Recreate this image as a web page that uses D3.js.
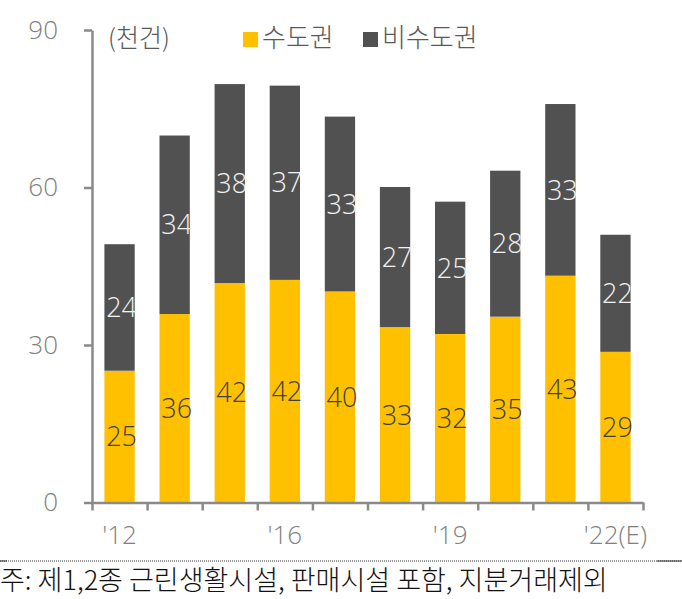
<!DOCTYPE html>
<html><head><meta charset="utf-8">
<script src="https://cdn.jsdelivr.net/npm/d3@7"></script>
<style>body{margin:0;background:#fff} svg{display:block}</style>
</head><body>
<svg id="c" width="682" height="599"></svg>
<script>
const categories = ["'12","'14","'15","'16","'17","'18","'19","'20","'21","'22(E)"];
const tickLabels = ["'12","","","'16","","","'19","","","'22(E)"];
const capital = [25.1,35.9,41.8,42.4,40.2,33.4,32.1,35.4,43.2,28.7];
const nonCapital = [24.1,34.0,37.9,37.0,33.3,26.7,25.2,27.8,32.7,22.3];
const seriesNames = ["수도권","비수도권"];
const seriesColors = ["#FFC000","#515151"];
const labelColors = ["#404040","#f2f2f2"];
const yTicks = [0,30,60,90];
const unitLabel = "(천건)";
const footnote = "주: 제1,2종 근린생활시설, 판매시설 포함, 지분거래제외";

const NUM = "'Open Sans','Noto Sans CJK KR',sans-serif";
const KR = "'Noto Sans CJK KR',sans-serif";
const svg = d3.select("#c");

const x0 = 92, x1 = 643, yBase = 502.5, yTop = 30;
const x = d3.scaleBand().domain(categories).range([x0, x1]).paddingInner(0.45).paddingOuter(0.225);
const y = d3.scaleLinear().domain([0, 90]).range([yBase, yTop]);
const xl = d3.scaleLinear().domain([0, categories.length]).range([x0, x1]);

const rows = categories.map((c, i) => ({cat: c, vals: [capital[i], nonCapital[i]]}));
const stack = d3.stack().keys([0, 1]).value((d, k) => d.vals[k]);
const layers = stack(rows);

// bars
layers.forEach((layer, k) => {
  svg.append("g").selectAll("rect").data(layer).join("rect")
    .attr("x", d => x(d.data.cat))
    .attr("width", x.bandwidth())
    .attr("y", d => y(d[1]))
    .attr("height", d => y(d[0]) - y(d[1]))
    .attr("fill", seriesColors[k]);
});
// value labels
layers.forEach((layer, k) => {
  svg.append("g").selectAll("text").data(layer).join("text")
    .attr("x", d => x(d.data.cat) + x.bandwidth() / 2 + 2)
    .attr("y", d => (y(d[0]) + y(d[1])) / 2)
    .attr("dy", "0.36em")
    .attr("text-anchor", "middle")
    .attr("font-family", NUM)
    .attr("font-weight", 300)
    .attr("font-size", 27)
    .attr("fill", labelColors[k])
    .text(d => Math.round(d[1] - d[0]));
});

// y axis
const gy = svg.append("g").attr("transform", `translate(${x0},0)`)
  .call(d3.axisLeft(y).tickValues(yTicks).tickSize(8).tickPadding(26).tickSizeOuter(0));
gy.select(".domain").attr("stroke", "#8a8a8a").attr("stroke-width", 2.5);
gy.selectAll(".tick line").attr("stroke", "#8a8a8a").attr("stroke-width", 2.5);
gy.selectAll(".tick text").attr("font-family", NUM).attr("font-weight", 300).attr("font-size", 26).attr("fill", "#7f7f7f");

// x axis (boundary ticks)
const gx = svg.append("g").attr("transform", `translate(0,${yBase})`)
  .call(d3.axisBottom(xl).tickValues(d3.range(categories.length + 1)).tickSize(8).tickFormat("").tickSizeOuter(0));
gx.select(".domain").attr("stroke", "#8a8a8a").attr("stroke-width", 2.5);
gx.selectAll(".tick line").attr("stroke", "#8a8a8a").attr("stroke-width", 2.5);
// x labels
const gxl = svg.append("g").attr("transform", `translate(0,${yBase})`)
  .call(d3.axisBottom(x).tickSize(0).tickPadding(23).tickFormat((d, i) => tickLabels[i]));
gxl.select(".domain").remove();
gxl.selectAll(".tick text").attr("font-family", NUM).attr("font-weight", 300).attr("font-size", 26).attr("fill", "#7f7f7f");

// unit label
svg.append("text").attr("x", 108).attr("y", 47).attr("font-family", KR).attr("font-weight", 300).attr("font-size", 25)
  .attr("fill", "#595959").text(unitLabel);

// legend
const legX = [243, 363];
seriesNames.forEach((n, k) => {
  svg.append("rect").attr("x", legX[k]).attr("y", 32).attr("width", 15).attr("height", 15).attr("fill", seriesColors[k]);
  svg.append("text").attr("x", legX[k] + 19).attr("y", 47).attr("font-family", KR).attr("font-weight", 300).attr("font-size", 26)
    .attr("fill", "#595959").text(n);
});

// footnote separator
svg.append("line").attr("x1", 0).attr("x2", 682).attr("y1", 561).attr("y2", 561)
  .attr("stroke", "#333").attr("stroke-width", 1).attr("stroke-dasharray", "1,1");
svg.append("line").attr("x1", 0).attr("x2", 7).attr("y1", 561).attr("y2", 561).attr("stroke", "#333");
svg.append("line").attr("x1", 657).attr("x2", 682).attr("y1", 561).attr("y2", 561).attr("stroke", "#333");

const fn = svg.append("text").attr("x", 0).attr("y", 590).attr("font-family", KR).attr("font-weight", 300).attr("font-size", 25)
  .attr("fill", "#111").text(footnote);
const w = fn.node().getComputedTextLength();
fn.attr("font-size", 25 * 608 / w);
</script>
</body></html>
